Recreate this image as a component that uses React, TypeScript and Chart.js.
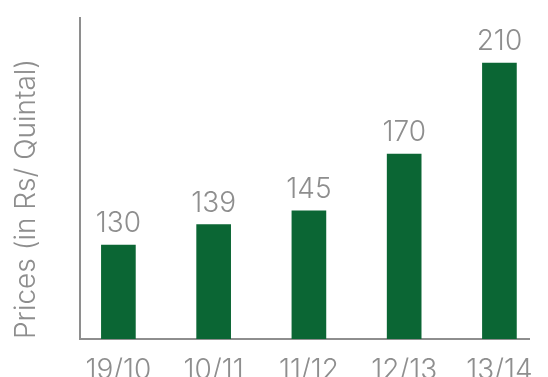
import { useEffect, useRef } from "react";
import { Chart, registerables } from "chart.js";

Chart.register(...registerables);

const seasons = ["19/10", "10/11", "11/12", "12/13", "13/14"];
const prices = [130, 139, 145, 170, 210];
const yTitle = "Prices (in Rs/ Quintal)";

const FONT = "Inter, 'Liberation Sans', sans-serif";
const GRAY = "#8e8e8e";
const GREEN = "#0b6634";

const valueLabels = {
  id: "valueLabels",
  afterDatasetsDraw(chart: any) {
    const ctx = chart.ctx;
    const meta = chart.getDatasetMeta(0);
    ctx.save();
    ctx.font = `300 28px ${FONT}`;
    ctx.fillStyle = GRAY;
    ctx.textAlign = "center";
    ctx.textBaseline = "alphabetic";
    meta.data.forEach((bar: any, i: number) => {
      ctx.fillText(String(prices[i]), bar.x, bar.y - 13);
    });
    ctx.restore();
  },
};

export default function App() {
  const ref = useRef<HTMLCanvasElement>(null);
  useEffect(() => {
    if (!ref.current) return;
    const chart = new Chart(ref.current, {
      type: "bar",
      data: {
        datasets: [
          {
            data: prices.map((v, i) => ({ x: i, y: v })),
            backgroundColor: GREEN,
            barThickness: 34,
          },
        ],
      },
      options: {
        animation: false,
        responsive: false,
        devicePixelRatio: 1,
        layout: { padding: { top: 18, right: 6, left: 0, bottom: 0 } },
        plugins: { legend: { display: false }, tooltip: { enabled: false } },
        scales: {
          x: {
            type: "linear",
            offset: false,
            min: -0.403,
            max: 4.311,
            grid: { display: false, drawTicks: false, offset: false },
            border: { display: true, color: GRAY, width: 2 },
            ticks: {
              font: { family: FONT, size: 28, weight: 300 as any },
              color: GRAY,
              padding: 15,
              maxRotation: 0,
              autoSkip: false,
              callback: (v: any) => seasons[v] ?? "",
            },
            afterBuildTicks: (s: any) => {
              s.ticks = seasons.map((_, i) => ({ value: i }));
            },
            afterFit: (s: any) => {
              s.height = 38;
            },
          },
          y: {
            min: 88.7,
            max: 229.8,
            ticks: { display: false },
            grid: { display: false, drawTicks: false },
            border: { display: true, color: GRAY, width: 2 },
            title: {
              display: true,
              text: yTitle,
              align: "start",
              color: GRAY,
              font: { family: FONT, size: 28, weight: 300 as any, lineHeight: 1 },
              padding: { top: 13, bottom: 0 },
            },
            afterFit: (s: any) => {
              s.width = 80;
            },
          },
        },
      },
      plugins: [valueLabels],
    } as any);
    return () => chart.destroy();
  }, []);
  return (
    <div style={{ position: "fixed", left: 0, top: 0, width: 548, height: 377, background: "#fff" }}>
      <canvas ref={ref} width={548} height={377} style={{ display: "block" }} />
    </div>
  );
}
